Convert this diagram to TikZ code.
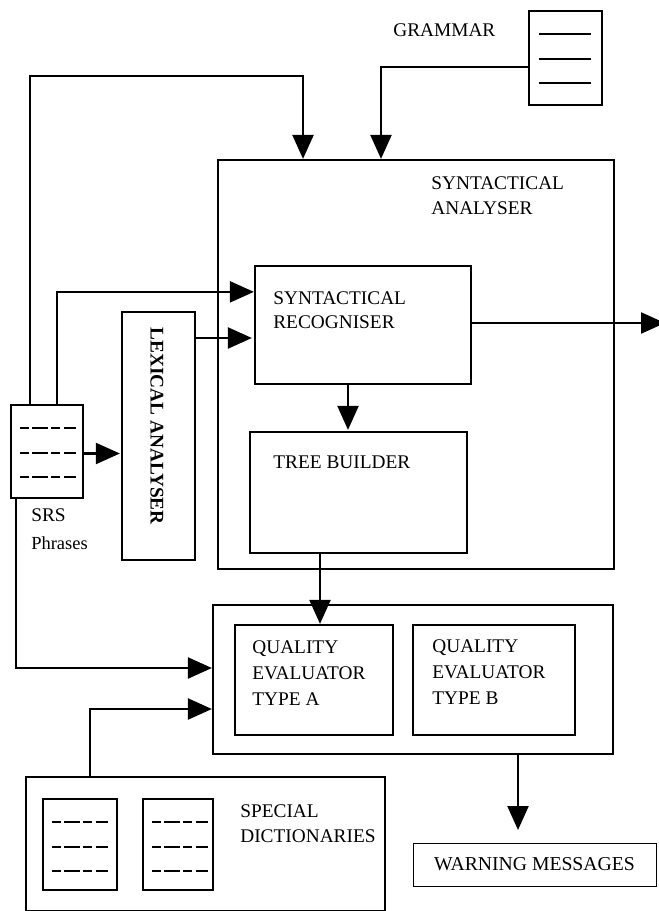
\documentclass[tikz,border=0pt]{standalone}
\usepackage{fontspec}
\setmainfont{Liberation Serif}
\usetikzlibrary{arrows.meta, calc}
\tikzset{
  block/.style={draw, line width=1.3pt, minimum width=#1, inner sep=0pt},
  label/.style={anchor=west, align=left, inner sep=0pt, font=\fontsize{11}{14}\selectfont},
  conn/.style={line width=1.3pt, -{Triangle[length=0.48cm,width=0.42cm]}},
  docline/.style={line width=0.8pt, dash pattern=on 5pt off 2pt on 9pt off 2pt}
}
\begin{document}
\begin{tikzpicture}[x=0.02cm, y=-0.02cm]
  \useasboundingbox (0,0) rectangle (658,911);
  % outer boxes
  \node[block=7.92cm, minimum height=8.18cm] (analyser) at (416,364.5) {};
  \node[block=8cm, minimum height=2.98cm] (quality) at (413,679.5) {};
  \node[block=7.18cm, minimum height=2.68cm] (special) at (205.5,844) {};
  % inner boxes
  \node[block=4.32cm, minimum height=2.36cm] (recogniser) at (363,325) {};
  \node[block=4.34cm, minimum height=2.42cm] (builder) at (358.5,492.5) {};
  \node[block=3.16cm, minimum height=2.2cm] (evala) at (314,680) {};
  \node[block=3.24cm, minimum height=2.2cm] (evalb) at (494,680) {};
  \node[block=1.46cm, minimum height=4.96cm] (lexical) at (158.5,436) {};
  \node[block=4.86cm, minimum height=0.86cm, line width=0.5pt] (warning) at (534.5,864.5)
    {\fontsize{11.2}{14}\selectfont WARNING MESSAGES};
  % documents
  \node[block=1.46cm, minimum height=1.88cm] (grammar) at (565.5,58) {};
  \node[block=1.44cm, minimum height=1.86cm] (srs) at (47,451.5) {};
  \node[block=1.48cm, minimum height=1.82cm] (dicta) at (80,844.5) {};
  \node[block=1.4cm, minimum height=1.82cm] (dictb) at (178,844.5) {};
  \foreach \f in {24,49,73}
    \draw[line width=0.8pt] ($(grammar.north west)+(11,\f)$) -- ($(grammar.north west)+(63,\f)$);
  \foreach \d in {srs,dicta,dictb}
    \foreach \f in {24,49,73}
      \draw[docline] ($(\d.north west)+(10,\f)$) -- ($(\d.north west)+(66,\f)$);
  % labels
  \node[label] (grammartxt) at (393,30) {GRAMMAR};
  \node[label] (analysertxt) at (431,195.5) {SYNTACTICAL\\ANALYSER};
  \node[label] (recognisertxt) at (273,310) {SYNTACTICAL\\RECOGNISER};
  \node[label] (buildertxt) at (273,462) {TREE BUILDER};
  \node[label] (evalatxt) at (252,673) {QUALITY\\[0.03cm]EVALUATOR\\[0.03cm]TYPE A};
  \node[label] (evalbtxt) at (432,672) {QUALITY\\[0.03cm]EVALUATOR\\[0.03cm]TYPE B};
  \node[label] (specialtxt) at (240,823.5) {SPECIAL\\DICTIONARIES};
  \node[label] (srstxt) at (31,529) {SRS\\[0.06cm]{\fontsize{10.5}{12}\selectfont Phrases}};
  \node[rotate=-90, inner sep=0pt, font=\fontsize{11}{14}\selectfont\bfseries] (lexicaltxt) at (157,426) {LEXICAL ANALYSER};
  % connectors
  \coordinate (outend) at (665,323);
  \coordinate (warnend) at (518,830);
  \draw[conn] ($(srs.north west)+(20,0)$) |- (303,76) -- (analyser.north -| 303,0);
  \draw[conn] ($(grammar.north west)+(0,57)$) -| (analyser.north -| 381,0);
  \draw[conn] ($(srs.north west)+(47,0)$) |- ($(recogniser.north west)+(0,27)$);
  \draw[conn] (lexical.east |- 0,338) -- ($(recogniser.west |- 0,338)+(-2,0)$);
  \draw[conn] ($(srs.east)+(0,2)$) -- ($(lexical.west |- srs.east)+(-1,2)$);
  \draw[conn] (recogniser.east |- outend) -- (outend);
  \draw[conn] (recogniser.south -| 348,0) -- ($(builder.north -| 348,0)+(0,-1)$);
  \draw[conn] (builder.south -| 320,0) -- (evala.north -| 320,0);
  \draw[conn] ($(srs.south west)+(6,0)$) |- (quality.west |- 0,668);
  \draw[conn] (special.north -| 90,0) |- (quality.west |- 0,709);
  \draw[conn] (quality.south -| warnend) -- (warnend);
\end{tikzpicture}
\end{document}
